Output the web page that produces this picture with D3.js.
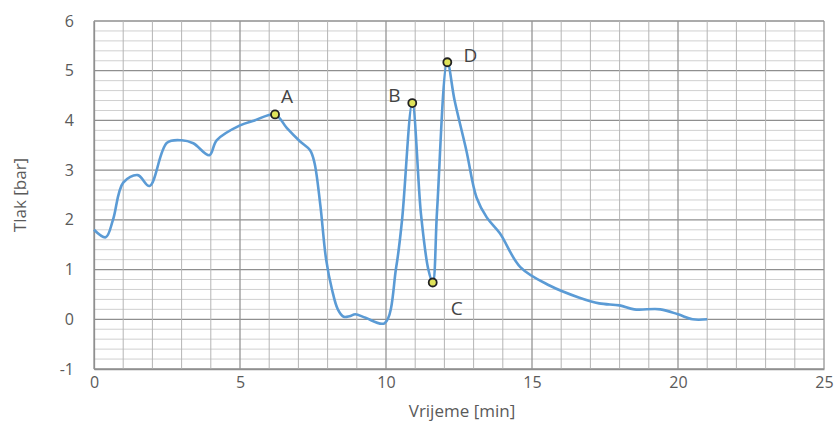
<!DOCTYPE html>
<html>
<head>
<meta charset="utf-8">
<script src="https://cdn.jsdelivr.net/npm/d3@7"></script>
<style>
  body { margin: 0; background: #fff; }
  svg { display: block; }
</style>
</head>
<body>
<svg id="drawing_region"></svg>
<script>
// vrijeme [min] i tlak [bar], očitano sa slike
const times = [0, 0.4, 0.65, 1.0, 1.5, 1.9, 2.5, 3.0, 3.4, 3.95, 4.2, 5.0, 5.5, 6.2, 6.6, 7.05, 7.4, 7.55, 7.75, 7.95, 8.15, 8.35, 8.55, 8.75, 8.95, 9.3, 9.95,
               10.35, 10.55, 10.9, 11.2, 11.45, 11.6, 11.75, 12.1, 12.35, 12.75, 13.1, 13.45, 13.9, 14.6, 15.6, 16.6, 17.3, 18.0, 18.5, 19.4, 20.0, 20.5, 21.0];
const pressure = [1.8, 1.65, 2.0, 2.75, 2.9, 2.68, 3.55, 3.6, 3.54, 3.3, 3.6, 3.9, 4.0, 4.12, 3.85, 3.58, 3.4, 3.15, 2.3, 1.2, 0.6, 0.2, 0.05, 0.06, 0.1, 0.03, -0.08,
                  1.05, 2.0, 4.35, 2.1, 1.0, 0.74, 2.2, 5.17, 4.4, 3.4, 2.45, 2.05, 1.73, 1.05, 0.68, 0.44, 0.32, 0.28, 0.2, 0.2, 0.1, 0.0, 0.0];

const pointNames = ["A", "B", "C", "D"];
const pointTimes = [6.2, 10.9, 11.6, 12.1];
const pointValues = [4.12, 4.35, 0.74, 5.17];

const xTicks = [0, 5, 10, 15, 20, 25];
const yTicks = [-1, 0, 1, 2, 3, 4, 5, 6];

const width = 836, height = 424;
const margin = { top: 21, right: 12, bottom: 55, left: 94 };

const svg = d3.select('#drawing_region')
    .attr('width', width)
    .attr('height', height);

const x = d3.scaleLinear().domain([0, 25]).range([margin.left, width - margin.right]);
const y = d3.scaleLinear().domain([-1, 6]).range([height - margin.bottom, margin.top]);

const grid = svg.append('g');

// sitna mreža: horizontalno svakih 0.2 bar
d3.range(-1, 6.001, 0.2).forEach(v => {
    const isMajor = Math.abs(v - Math.round(v)) < 1e-6;
    grid.append('line')
        .attr('x1', x(0)).attr('x2', x(25))
        .attr('y1', y(v)).attr('y2', y(v))
        .attr('stroke', isMajor ? '#8f8f8f' : '#d0d0d0')
        .attr('stroke-width', isMajor ? 1.3 : 1);
});

// vertikalno svake minute
d3.range(0, 25.001, 1).forEach(v => {
    const isMajor = v % 5 === 0;
    grid.append('line')
        .attr('x1', x(v)).attr('x2', x(v))
        .attr('y1', y(-1)).attr('y2', y(6))
        .attr('stroke', isMajor ? '#959595' : '#b5b5b5')
        .attr('stroke-width', isMajor ? 1.3 : 1);
});

// osi
const fmt = d => String(d);
const xAxis = svg.append('g')
    .attr('transform', `translate(0,${y(-1)})`)
    .call(d3.axisBottom(x).tickValues(xTicks).tickFormat(fmt).tickSize(0).tickPadding(8));
const yAxis = svg.append('g')
    .attr('transform', `translate(${x(0)},0)`)
    .call(d3.axisLeft(y).tickValues(yTicks).tickFormat(fmt).tickSize(0).tickPadding(20));

[xAxis, yAxis].forEach(a => {
    a.select('.domain').attr('stroke', '#8f8f8f').attr('stroke-width', 1.3);
    a.selectAll('text')
        .attr('fill', '#5a5a5a')
        .style('font-family', '"Open Sans", sans-serif')
        .style('font-size', '16px');
});

svg.append('text')
    .attr('x', 462).attr('y', 417)
    .attr('text-anchor', 'middle')
    .attr('fill', '#5a5a5a')
    .style('font-family', '"Open Sans", sans-serif')
    .style('font-size', '17px')
    .text('Vrijeme [min]');

svg.append('text')
    .attr('transform', `translate(26,${(y(-1) + y(6)) / 2}) rotate(-90)`)
    .attr('text-anchor', 'middle')
    .attr('fill', '#5a5a5a')
    .style('font-family', '"Open Sans", sans-serif')
    .style('font-size', '17px')
    .text('Tlak [bar]');

// krivulja tlaka
const line = d3.line()
    .x((d, i) => x(times[i]))
    .y(d => y(d))
    .curve(d3.curveCatmullRom.alpha(0.5));

svg.append('path')
    .datum(pressure)
    .attr('d', line)
    .attr('fill', 'none')
    .attr('stroke', '#5b9bd5')
    .attr('stroke-width', 2.6)
    .attr('stroke-linejoin', 'round');

// točke A-D
const labelOffsets = [[12, -18], [-18, -8], [24, 26], [23, -7]];
pointNames.forEach((name, i) => {
    svg.append('circle')
        .attr('cx', x(pointTimes[i]))
        .attr('cy', y(pointValues[i]))
        .attr('r', 4)
        .attr('fill', '#dfe35a')
        .attr('stroke', '#222')
        .attr('stroke-width', 1.8);
    svg.append('text')
        .attr('x', x(pointTimes[i]) + labelOffsets[i][0])
        .attr('y', y(pointValues[i]) + labelOffsets[i][1])
        .attr('text-anchor', 'middle')
        .attr('dominant-baseline', 'central')
        .attr('fill', '#444')
        .style('font-family', '"Open Sans", sans-serif')
        .style('font-size', '19px')
        .text(name);
});
</script>
</body>
</html>
